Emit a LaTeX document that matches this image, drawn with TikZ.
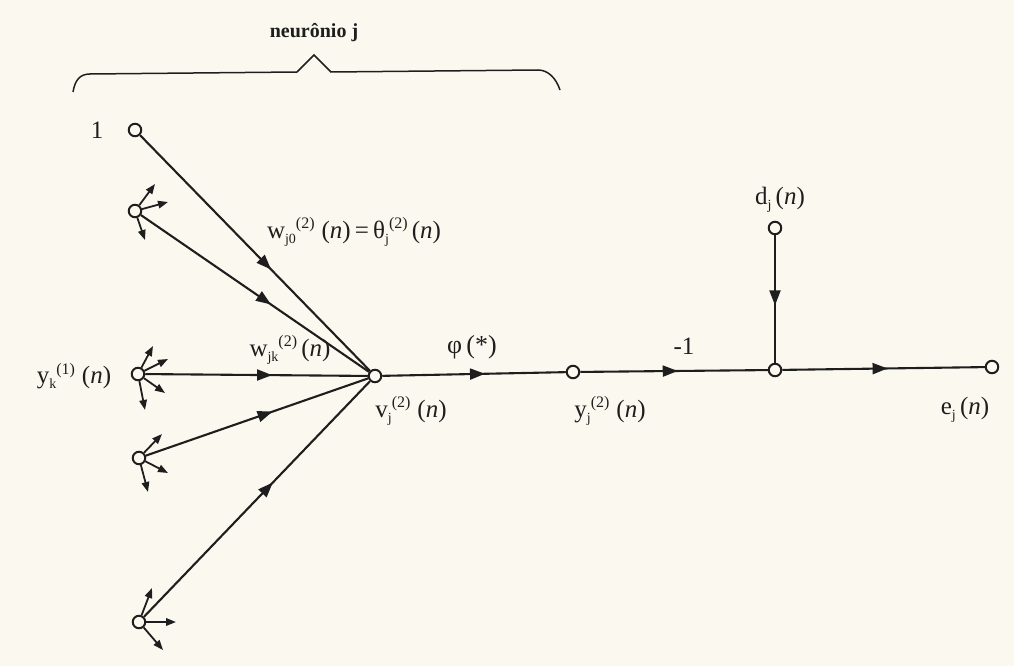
\documentclass[tikz,border=0pt]{standalone}
\usepackage{fontspec}
\setmainfont{Liberation Serif}
\usetikzlibrary{arrows.meta,decorations.markings}
\definecolor{paper}{HTML}{FBF9EF}
\definecolor{ink}{HTML}{1E1E1E}
\newcommand{\lsb}[1]{\raisebox{-0.45ex}{\fontsize{14}{15}\selectfont #1}}
\newcommand{\lsp}[1]{\raisebox{0.8ex}{\fontsize{16}{17}\selectfont #1}}
\tikzset{
  pin/.style={circle,draw=ink,line width=2pt,fill=paper,minimum size=12.5pt,inner sep=0pt},
  wire/.style={draw=ink,line width=2.1pt},
  midarrow/.style={decoration={markings,mark=at position #1 with {\arrow{Triangle[length=15pt,width=11pt]}}},postaction={decorate}},
  stub/.style={draw=ink,line width=1.8pt,-{Triangle[length=10pt,width=7.5pt]}},
  lbl/.style={inner sep=0pt,font=\fontsize{25}{27}\selectfont,text=ink},
}
\begin{document}
\begin{tikzpicture}[x=1pt,y=-1pt]
\fill[paper] (0,0) rectangle (1014,666);
\useasboundingbox (0,0) rectangle (1014,666);

% brace
\draw[ink,line width=1.5pt] (73,92) .. controls (75,80) and (80,74) .. (90,74) -- (297,72) -- (314,55) -- (331,72) -- (538,70) .. controls (548,70) and (556,78) .. (560,90);
\node[lbl,font=\fontsize{20}{22}\selectfont\bfseries] (title) at (314,33) {neurônio j};

% nodes
\node[pin] (n1) at (135,130) {};
\node[pin] (a2) at (135,211) {};
\node[pin] (yk) at (138,374) {};
\node[pin] (a4) at (139,458) {};
\node[pin] (a5) at (139,622) {};
\node[pin] (v)  at (375,376) {};
\node[pin] (y)  at (573,372) {};
\node[pin] (s)  at (775,370) {};
\node[pin] (d)  at (775,228) {};
\node[pin] (e)  at (992,367) {};

% stub coordinates
\coordinate (a2p) at (155,184); \coordinate (a2q) at (168,202); \coordinate (a2r) at (145,240);
\coordinate (ykp) at (153,346); \coordinate (ykq) at (168,359); \coordinate (ykr) at (165,393); \coordinate (yks) at (145,410);
\coordinate (a4p) at (162,434); \coordinate (a4q) at (168,473); \coordinate (a4r) at (148,492);
\coordinate (a5p) at (152,588); \coordinate (a5q) at (176,622); \coordinate (a5r) at (163,650);

\foreach \a/\b in {a2/a2p,a2/a2q,a2/a2r,yk/ykp,yk/ykq,yk/ykr,yk/yks,a4/a4p,a4/a4q,a4/a4r,a5/a5p,a5/a5q,a5/a5r}
  \draw[stub] (\a) -- (\b);

% main connectors
\draw[wire,midarrow=0.57] (n1) -- (v);
\draw[wire,midarrow=0.57] (a2) -- (v);
\draw[wire,midarrow=0.57] (yk) -- (v);
\draw[wire,midarrow=0.57] (a4) -- (v);
\draw[wire,midarrow=0.57] (a5) -- (v);
\draw[wire,midarrow=0.56] (v) -- (y);
\draw[wire,midarrow=0.52] (y) -- (s);
\draw[wire,midarrow=0.55] (d) -- (s);
\draw[wire,midarrow=0.52] (s) -- (e);

% labels
\node[lbl] (l1) at (97,130) {1};
\node[lbl] (lw0) at (354,232) {w\lsb{j0}\lsp{(2)}\;(\textit{n})\,=\,θ\lsb{j}\lsp{(2)}\,(\textit{n})};
\node[lbl] (lwk) at (290,350) {w\lsb{jk}\lsp{(2)}\,(\textit{n})};
\node[lbl] (lyk) at (74,376) {y\lsb{k}\lsp{(1)}\;(\textit{n})};
\node[lbl,font=\fontsize{26}{28}\selectfont] (lphi) at (472,347) {φ\,(*)};
\node[lbl] (lv) at (411,411) {v\lsb{j}\lsp{(2)}\;(\textit{n})};
\node[lbl] (ly) at (610,411) {y\lsb{j}\lsp{(2)}\;(\textit{n})};
\node[lbl] (lm1) at (684,346) {-1};
\node[lbl] (ld) at (780,200) {d\lsb{j}\,(\textit{n})};
\node[lbl] (le) at (965,410) {e\lsb{j}\,(\textit{n})};
\end{tikzpicture}
\end{document}
